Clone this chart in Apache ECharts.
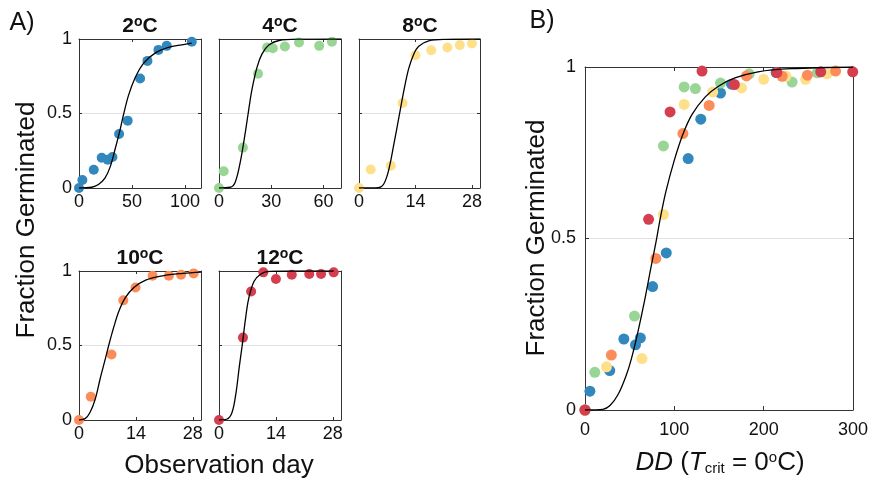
<!DOCTYPE html>
<html>
<head>
<meta charset="utf-8">
<script src="https://cdn.jsdelivr.net/npm/echarts@6/dist/echarts.min.js"></script>
<style>html,body{margin:0;padding:0;background:#fff}#chart{width:871px;height:481px}</style>
</head>
<body>
<div id="chart"></div>
<script>
// ---------- DATA ----------
const tempLabels = ['2', '4', '8', '10', '12'];
const seriesColors = ['#3288bd', '#99d594', '#fee08b', '#fc8d59', '#d53e4f'];

// Panel A: observation day vs fraction germinated
const days2  = [0, 3.2, 13.9, 21.4, 27.1, 31.5, 37.8, 45.9, 57.6, 64.5, 74.9, 82.7, 106.3];
const frac2  = [0, 0.054, 0.122, 0.203, 0.19, 0.208, 0.362, 0.452, 0.735, 0.853, 0.927, 0.954, 0.981];
const days4  = [0, 2.7, 13.7, 22.4, 27.6, 30.9, 37.8, 45.9, 57.5, 64.8];
const frac4  = [0, 0.113, 0.271, 0.767, 0.943, 0.938, 0.95, 0.977, 0.954, 0.982];
const days8  = [0, 2.9, 7.9, 10.8, 14, 17.9, 21.9, 25, 28];
const frac8  = [0, 0.124, 0.149, 0.57, 0.891, 0.925, 0.943, 0.959, 0.970];
const days10 = [0, 2.9, 8, 10.9, 13.9, 18.1, 22.1, 25.1, 28.2];
const frac10 = [0, 0.156, 0.44, 0.803, 0.889, 0.968, 0.968, 0.975, 0.984];
const days12 = [0, 5.9, 7.9, 10.9, 14, 17.9, 22.2, 25.1, 28.2];
const frac12 = [0, 0.553, 0.862, 0.991, 0.946, 0.975, 0.98, 0.98, 0.991];

// Panel A: fitted curves
const fitDay2  = [0, 12, 18.3, 24.6, 29.3, 34, 38.7, 41.9, 46.6, 52.9, 60.8, 71.7, 84.3, 96.9, 106.3];
const fitFrac2 = [0, 0.005, 0.023, 0.068, 0.14, 0.26, 0.39, 0.49, 0.62, 0.74, 0.837, 0.905, 0.943, 0.961, 0.972];
const fitDay4  = [0, 6.4, 9.3, 12.2, 15, 16.6, 18.9, 21.8, 24.7, 28.6, 34.4, 44, 70];
const fitFrac4 = [0, 0.005, 0.039, 0.174, 0.366, 0.49, 0.66, 0.81, 0.9, 0.96, 0.99, 0.999, 1];
const fitDay8  = [0, 4.8, 6.1, 7.3, 8.6, 10, 11.1, 12.3, 13.6, 14.8, 17.3, 21.5, 30];
const fitFrac8 = [0, 0.002, 0.025, 0.113, 0.287, 0.49, 0.65, 0.8, 0.9, 0.952, 0.988, 0.998, 1];
const fitDay10  = [0, 1.5, 2.7, 4, 5.2, 6.5, 7.3, 8.6, 9.8, 11.4, 13.5, 16.4, 20.6, 25.5, 30];
const fitFrac10 = [0, 0.009, 0.05, 0.141, 0.277, 0.413, 0.5, 0.628, 0.73, 0.821, 0.889, 0.939, 0.968, 0.984, 0.993];
const fitDay12  = [0, 1.9, 3.2, 4.2, 5, 5.7, 6.5, 7.3, 8.6, 10.3, 12.3, 19, 28.2];
const fitFrac12 = [0, 0.005, 0.05, 0.186, 0.36, 0.5, 0.675, 0.815, 0.93, 0.98, 0.997, 1, 1];

// Panel A axes
const xMaxA = [115, 70, 30, 30, 30];
const xTicksA = [[0, 50, 100], [0, 30, 60], [0, 14, 28], [0, 14, 28], [0, 14, 28]];
const yTicks = [0, 0.5, 1];

// Panel B: degree-days vs fraction germinated
const dd2  = [0, 5.5, 27.7, 43.5, 56.5, 62, 75.7, 91, 115.5, 129.6, 151.7, 164, 214];
const fb2  = [0, 0.055, 0.115, 0.207, 0.19, 0.21, 0.36, 0.458, 0.733, 0.848, 0.924, 0.95, 0.984];
const dd4  = [0, 11, 55.4, 87.8, 111, 123.6, 151.7, 183.8, 231.8, 260];
const fb4  = [0, 0.11, 0.274, 0.77, 0.942, 0.937, 0.953, 0.98, 0.956, 0.983];
const dd8  = [0, 24, 63.8, 87.8, 111, 143, 175.3, 200, 225, 247, 271];
const fb8  = [0, 0.126, 0.15, 0.57, 0.891, 0.927, 0.939, 0.964, 0.973, 0.964, 0.98];
const dd10 = [0, 29.5, 79.3, 109.6, 139, 180.8, 220.7, 249, 280.5];
const fb10 = [0, 0.16, 0.442, 0.806, 0.888, 0.974, 0.973, 0.976, 0.988];
const dd12 = [0, 71.2, 95.2, 131, 167.2, 214.8, 263.9, 299.7];
const fb12 = [0, 0.556, 0.869, 0.988, 0.949, 0.984, 0.986, 0.986];
const fitDD   = [0, 20, 28, 37, 46, 52, 59, 66.4, 73.8, 79.5, 84, 90.4, 99.6, 109.6, 119.9, 134.7, 149.4, 167.9, 193.7, 230.6, 300];
const fitFracB = [0, 0.002, 0.013, 0.045, 0.1, 0.15, 0.225, 0.315, 0.415, 0.49, 0.555, 0.635, 0.725, 0.804, 0.862, 0.913, 0.944, 0.968, 0.986, 0.995, 1];
const xMaxB = 300;
const xTicksB = [0, 100, 200, 300];

// ---------- LAYOUT ----------
const FONT = 'Liberation Sans, Arial, Helvetica, sans-serif';
const TXT = '#111';
const gridBoxes = [
  {left: 79, top: 39, width: 122, height: 149},
  {left: 219, top: 39, width: 122, height: 149},
  {left: 359, top: 39, width: 121, height: 149},
  {left: 79, top: 271, width: 122, height: 149},
  {left: 219, top: 271, width: 122, height: 149},
  {left: 585, top: 67, width: 271, height: 343}
];
const showYLabels = [true, false, false, true, false, true];

const daysA = [days2, days4, days8, days10, days12];
const fracA = [frac2, frac4, frac8, frac10, frac12];
const fitDA = [fitDay2, fitDay4, fitDay8, fitDay10, fitDay12];
const fitFA = [fitFrac2, fitFrac4, fitFrac8, fitFrac10, fitFrac12];
const ddB = [dd2, dd4, dd8, dd10, dd12];
const fB = [fb2, fb4, fb8, fb10, fb12];

const zip = (a, b) => a.map((v, i) => [v, b[i]]);
const axisLineStyle = {color: '#333', width: 1};

const grid = [], xAxis = [], yAxis = [], series = [];
gridBoxes.forEach((g, gi) => {
  grid.push(Object.assign({containLabel: false}, g));
  const isB = gi === 5;
  const xmax = isB ? xMaxB : xMaxA[gi];
  const xt = isB ? xTicksB : xTicksA[gi];
  ['bottom', 'top'].forEach(pos => {
    xAxis.push({
      type: 'value', gridIndex: gi, min: 0, max: xmax, position: pos,
      axisLine: {show: true, onZero: false, lineStyle: axisLineStyle},
      axisTick: {show: true, inside: true, length: isB ? 4 : 3, customValues: xt, lineStyle: axisLineStyle},
      axisLabel: {show: pos === 'bottom', customValues: xt, fontSize: 18, color: TXT, fontFamily: FONT, margin: isB ? 11 : 5},
      splitLine: {show: false}
    });
  });
  ['left', 'right'].forEach(pos => {
    yAxis.push({
      type: 'value', gridIndex: gi, min: 0, max: 1, interval: 0.5, position: pos,
      axisLine: {show: true, onZero: false, lineStyle: axisLineStyle},
      axisTick: {show: true, inside: true, length: isB ? 4 : 3, lineStyle: axisLineStyle},
      axisLabel: {show: pos === 'left' && showYLabels[gi], fontSize: 18, color: TXT, fontFamily: FONT, margin: isB ? 9 : 7,
        formatter: v => (v === 0.5 ? '0.5' : String(v))},
      splitLine: {show: pos === 'left', lineStyle: {color: '#e2e2e2', width: 1}}
    });
  });
});

// Panel A series
for (let i = 0; i < 5; i++) {
  series.push({
    type: 'scatter', xAxisIndex: 2 * i, yAxisIndex: 2 * i, clip: false,
    data: zip(daysA[i], fracA[i]), symbolSize: 10,
    itemStyle: {color: seriesColors[i], opacity: 1}, z: 2
  });
  series.push({
    type: 'line', xAxisIndex: 2 * i, yAxisIndex: 2 * i,
    data: zip(fitDA[i], fitFA[i]), showSymbol: false, smooth: 0.35,
    lineStyle: {color: '#000', width: 1.3}, z: 3
  });
}
// Panel B series
for (let i = 0; i < 5; i++) {
  series.push({
    type: 'scatter', xAxisIndex: 10, yAxisIndex: 10, clip: false,
    data: zip(ddB[i], fB[i]), symbolSize: 11,
    itemStyle: {color: seriesColors[i], opacity: 1}, z: 2 + i * 0.01
  });
}
series.push({
  type: 'line', xAxisIndex: 10, yAxisIndex: 10,
  data: zip(fitDD, fitFracB), showSymbol: false, smooth: 0.35,
  lineStyle: {color: '#000', width: 1.3}, z: 3
});

// Text elements
const titleRich = {
  b: {fontSize: 21, fontWeight: 'bold', fontFamily: FONT, fill: TXT},
  s: {fontSize: 14, fontWeight: 'bold', fontFamily: FONT, fill: TXT, verticalAlign: 'top'}
};
const titlePos = [[140, 26], [280, 26], [420, 26], [140, 258], [280, 258]];
const graphic = [];
titlePos.forEach((p, i) => {
  graphic.push({
    type: 'text', x: p[0], y: p[1],
    style: {text: '{b|' + tempLabels[i] + '}{s|o}{b|C}', rich: titleRich, align: 'center', verticalAlign: 'middle'}
  });
});
const labelStyle = (text, size) => ({text, fontSize: size, fontFamily: FONT, fill: TXT, align: 'center', verticalAlign: 'middle'});
graphic.push({type: 'text', x: 22, y: 23, style: labelStyle('A)', 25)});
graphic.push({type: 'text', x: 542, y: 21, style: labelStyle('B)', 25)});
graphic.push({type: 'text', x: 27, y: 220, rotation: Math.PI / 2, style: labelStyle('Fraction Germinated', 26)});
graphic.push({type: 'text', x: 537, y: 238, rotation: Math.PI / 2, style: labelStyle('Fraction Germinated', 26)});
graphic.push({type: 'text', x: 219, y: 466, style: labelStyle('Observation day', 26)});
graphic.push({
  type: 'text', x: 720, y: 463,
  style: {
    text: '{i|DD}{n| (}{i|T}{sub|crit}{n| = 0}{sup|o}{n|C)}', align: 'center', verticalAlign: 'middle',
    rich: {
      n: {fontSize: 26, fontFamily: FONT, fill: TXT},
      i: {fontSize: 26, fontFamily: FONT, fontStyle: 'italic', fill: TXT},
      sub: {fontSize: 15, fontFamily: FONT, fill: TXT, verticalAlign: 'bottom'},
      sup: {fontSize: 15, fontFamily: FONT, fill: TXT, verticalAlign: 'top'}
    }
  }
});

const chart = echarts.init(document.getElementById('chart'), null, {renderer: 'canvas'});
chart.setOption({animation: false, backgroundColor: '#fff', grid, xAxis, yAxis, series, graphic});
</script>
</body>
</html>
